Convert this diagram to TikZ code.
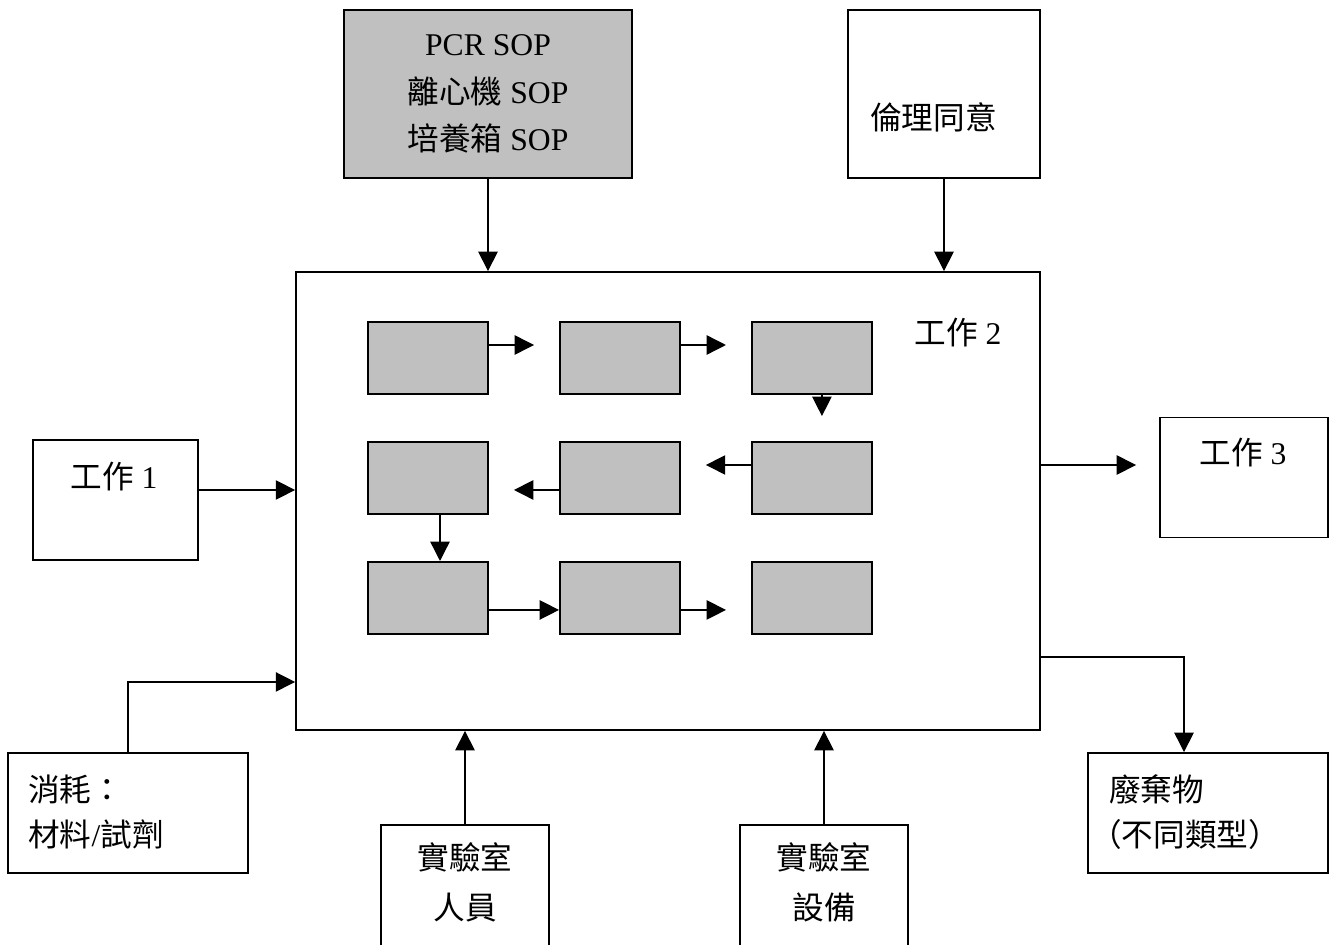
\documentclass[tikz,border=0pt]{standalone}
\usepackage{fontspec}
\setmainfont{Liberation Serif}
\newfontfamily\cjk{Noto Sans CJK TC}
\usetikzlibrary{positioning,arrows.meta}
\definecolor{boxgrey}{HTML}{C0C0C0}
\tikzstyle{frame} = [rectangle, draw, line width=1.1pt, inner sep=0pt, text centered]
\tikzstyle{greyframe} = [frame, fill=boxgrey]
\tikzstyle{stage} = [greyframe, minimum width=2.4cm, minimum height=1.44cm]
\tikzstyle{tag} = [inner sep=0pt, font=\fontsize{18pt}{27pt}\selectfont]
\tikzstyle{connector} = [line width=0.8pt, -{Triangle[length=11pt,width=11pt]}]

\begin{document}
\begin{tikzpicture}[x=0.02cm, y=-0.02cm, node distance=3.84cm]
    \useasboundingbox (0,0) rectangle (1335,945);
    \clip (0,0) rectangle (1335,945);
    % main work
    \node (main) [frame, minimum width=14.88cm, minimum height=9.16cm] at (668,501) {};
    \node (main-tag) [tag] at (958,333) {{\cjk 工作} 2};
    % inputs
    \node (sop) [greyframe, tag, align=center, minimum width=5.76cm, minimum height=3.36cm] at (488,94) {
        PCR SOP \\
        {\cjk 離心機} SOP \\
        {\cjk 培養箱} SOP
    };
    \node (ethics) [frame, minimum width=3.84cm, minimum height=3.36cm] at (944,94) {};
    \node (ethics-tag) [tag, anchor=west] at (870,117) {\cjk 倫理同意};
    \node (job1) [frame, minimum width=3.3cm, minimum height=2.4cm] at (115.5,500) {};
    \node (job1-tag) [tag] at (114,477) {{\cjk 工作} 1};
    \node (supplies) [frame, minimum width=4.8cm, minimum height=2.4cm] at (128,813) {};
    \node (supplies-tag) [tag, anchor=west, align=left, font=\fontsize{18pt}{25.5pt}\selectfont] at (28,812) {
        \cjk 消耗： \\
        {\cjk 材料}/{\cjk 試劑}
    };
    \node (staff) [frame, minimum width=3.36cm, minimum height=3cm] at (465,900) {};
    \node (staff-tag) [tag, align=center, font=\fontsize{18pt}{28.5pt}\selectfont] at (465,882) {
        \cjk 實驗室 \\
        \cjk 人員
    };
    \node (equip) [frame, minimum width=3.36cm, minimum height=3cm] at (824,900) {};
    \node (equip-tag) [tag, align=center, font=\fontsize{18pt}{28.5pt}\selectfont] at (824,882) {
        \cjk 實驗室 \\
        \cjk 設備
    };
    % outputs
    \node (job3) [frame, minimum width=3.36cm, minimum height=2.4cm] at (1244,477.5) {};
    \node (job3-tag) [tag] at (1243,453) {{\cjk 工作} 3};
    \node (waste) [frame, minimum width=4.8cm, minimum height=2.4cm] at (1208,813) {};
    \node (waste-tag) [tag, anchor=west, align=left, font=\fontsize{18pt}{25.5pt}\selectfont] at (1090,812) {
        \hspace{0.6em}\cjk 廢棄物 \\
        \cjk （不同類型）
    };
    % inner steps
    \node (s1) [stage] at (428,358) {};
    \node (s2) [stage, right of = s1] {};
    \node (s3) [stage, right of = s2] {};
    \node (s4) [stage, below of = s3, node distance=2.4cm] {};
    \node (s5) [stage, left of = s4] {};
    \node (s6) [stage, left of = s5] {};
    \node (s7) [stage, below of = s6, node distance=2.4cm] {};
    \node (s8) [stage, right of = s7] {};
    \node (s9) [stage, right of = s8] {};
    \draw [connector, shorten >=0.5cm] ([yshift=0.26cm]s1.east) -- ([yshift=0.26cm]s2.west);
    \draw [connector, shorten >=0.5cm] ([yshift=0.26cm]s2.east) -- ([yshift=0.26cm]s3.west);
    \draw [connector, shorten >=0.5cm] ([xshift=0.2cm]s3.south) -- ([xshift=0.2cm]s4.north);
    \draw [connector, shorten >=0.5cm] ([yshift=0.26cm]s4.west) -- ([yshift=0.26cm]s5.east);
    \draw [connector, shorten >=0.5cm] ([yshift=-0.24cm]s5.west) -- ([yshift=-0.24cm]s6.east);
    \draw [connector] ([xshift=0.24cm]s6.south) -- ([xshift=0.24cm]s7.north);
    \draw [connector] ([yshift=-0.24cm]s7.east) -- ([yshift=-0.24cm]s8.west);
    \draw [connector, shorten >=0.5cm] ([yshift=-0.24cm]s8.east) -- ([yshift=-0.24cm]s9.west);
    % connectors round the main work
    \draw [connector] (sop.south) -- (sop.south |- main.north);
    \draw [connector] (ethics.south) -- (ethics.south |- main.north);
    \draw [connector] ([yshift=0.2cm]job1.east) -- ([yshift=0.2cm]job1.east -| main.west);
    \draw [connector] (supplies.north) |- ([yshift=-3.62cm]main.west);
    \draw [connector] (staff.north) -- (staff.north |- main.south);
    \draw [connector] (equip.north) -- (equip.north |- main.south);
    \draw [connector, shorten >=0.46cm] ([yshift=0.72cm]main.east) -- ([yshift=0.72cm]main.east -| job3.west);
    \draw [connector] ([yshift=-3.12cm]main.east) -| ([xshift=-0.48cm]waste.north);
\end{tikzpicture}
\end{document}
